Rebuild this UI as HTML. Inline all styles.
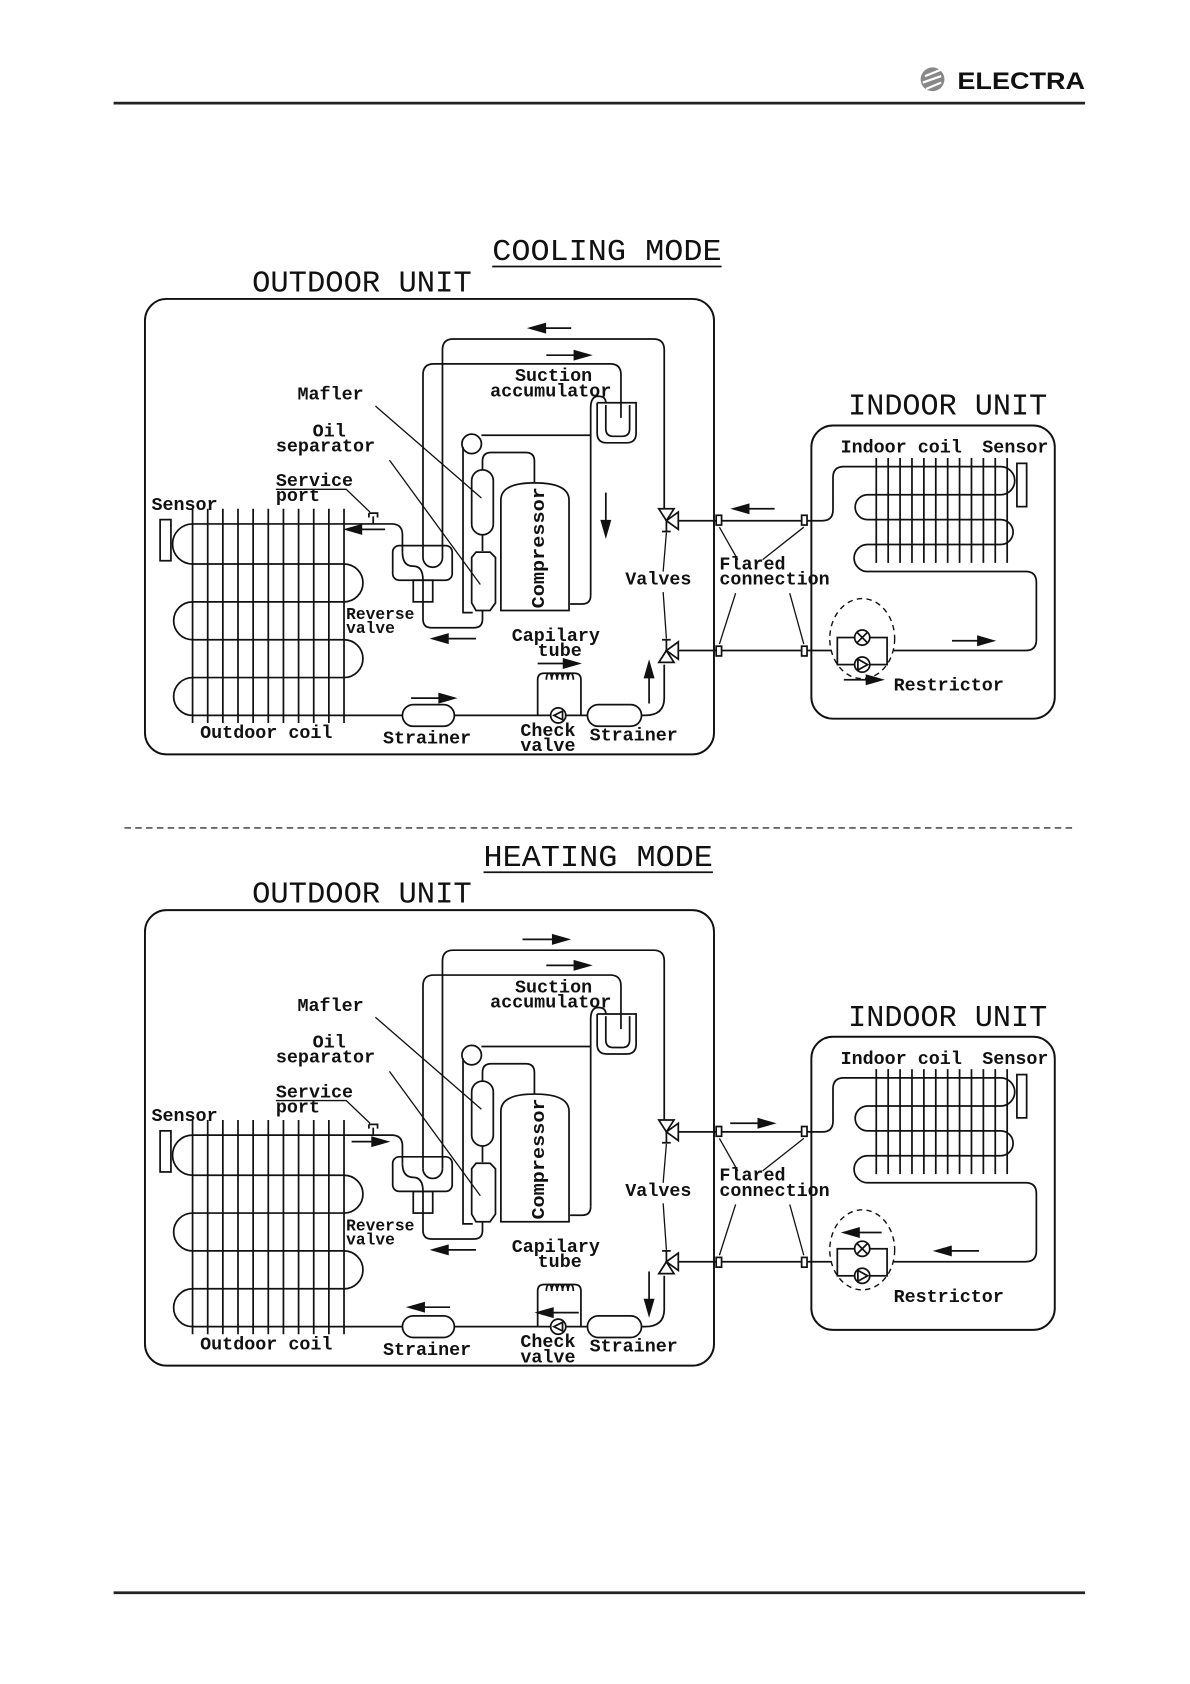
<!DOCTYPE html>
<html><head><meta charset="utf-8"><style>
html,body{margin:0;padding:0;background:#fff;}
svg{display:block}
.t{font-family:"Liberation Mono",monospace;font-weight:bold;font-size:17px;fill:#111}
.h{font-family:"Liberation Mono",monospace;font-size:28px;fill:#111}
</style></head><body>
<svg width="1190" height="1684" viewBox="0 0 1100 1556" xmlns="http://www.w3.org/2000/svg">
<defs>
<g id="base" fill="none" stroke="#111" stroke-width="1.6">
 <rect x="134" y="276" width="526" height="421" rx="20" stroke-width="1.8"/>
 <rect x="750" y="393" width="225" height="271" rx="20" stroke-width="1.8"/>
 <path d="M372,510 V494 Q372,484 362,484 H178 A18.5,18.5 0 0 0 178,521 H318 A17.5,17.5 0 0 1 318,556 H178 A17.5,17.5 0 0 0 178,591 H318 A17.5,17.5 0 0 1 318,626 H178 A17.5,17.5 0 0 0 178,661 H596 Q614,661 614,645 V614"/>
 <rect x="148" y="480" width="10" height="38" fill="#fff"/>
 <g>
  <line x1="178" y1="470" x2="178" y2="668"/><line x1="192" y1="470" x2="192" y2="668"/><line x1="206" y1="470" x2="206" y2="668"/><line x1="220" y1="470" x2="220" y2="668"/><line x1="234" y1="470" x2="234" y2="668"/><line x1="248" y1="470" x2="248" y2="668"/><line x1="262" y1="470" x2="262" y2="668"/><line x1="276" y1="470" x2="276" y2="668"/><line x1="290" y1="470" x2="290" y2="668"/><line x1="304" y1="470" x2="304" y2="668"/><line x1="318" y1="470" x2="318" y2="668"/>
 </g>
 <path d="M345,484 V477 M341,474 H349 V478 M341,474 V478"/>
 <path d="M255,452 H320 L342,473" stroke-width="1.2"/>
 <path d="M409,515 V323 Q409,313 419,313 H604 Q614,313 614,323 V470"/>
 <path d="M391,515 V346 Q391,336 401,336 H564 Q574,336 574,346 V386"/>
 <path d="M391,515 A9,9 0 0 0 409,515"/>
 <path d="M391,536 V572 Q391,580 399,580 H438 Q446,580 446,572 V564"/>
 <rect x="363" y="504" width="55" height="32" rx="6"/>
 <rect x="382" y="536" width="18" height="20"/>
 <path d="M372,510 Q372,523 382,523 Q391,523 391,536"/>
 <path d="M552,372 V400 Q552,409 561,409 H579 Q588,409 588,400 V372 H552"/>
 <path d="M560,374 V396 Q560,403 567,403 H575 Q582,403 582,396 V374"/>
 <path d="M546,550 V377 Q546,366 553,366 Q560,366 560,372"/>
 <path d="M546,550 Q546,558 538,558 H527"/>
 <path d="M445,402 H546"/>
 <circle cx="436" cy="410" r="9"/>
 <path d="M428,413 V566 H437"/>
 <rect x="436" y="434" width="20" height="60" rx="10"/>
 <path d="M446,494 V509"/>
 <path d="M446,434 V426 Q446,418 454,418 H486 Q494,418 494,426 V446"/>
 <path d="M440,510 H453 L458,515 V557 L453,564 H440 L436,557 V515 Z"/>
 <path d="M463,564 V462 Q463,446 494,446 Q526,446 526,462 V564 Z"/>
 <path d="M347,375 L445,460 M360,425 L444,540" stroke-width="1.2"/>
 <path d="M609,470 H623 L616,481 Z M616,481 L627,473 V489 Z M616,481 V491 M612,491 H620" fill="#fff"/>
 <path d="M616,601 L609,612 H623 Z M616,601 L627,593 V609 Z M616,601 V591 M612,591 H620" fill="#fff"/>
 <path d="M627,481 H743 M743,481 H760 Q770,481 770,471 V441 Q770,431 780,431 H925 A13,13 0 0 1 925,457 H802 A11.5,11.5 0 0 0 802,480 H925 A11.5,11.5 0 0 1 925,503 H802 A12.5,12.5 0 0 0 802,528 H948 Q958,528 958,538 V591 Q958,601 948,601 H826"/>
 <path d="M627,601 H768"/>
 <path d="M613,528 L616,492 M613,547 L616,590" stroke-width="1.2"/>
 <rect x="662" y="476" width="5" height="9" fill="#fff"/><rect x="741" y="476" width="5" height="9" fill="#fff"/>
 <rect x="662" y="597" width="5" height="9" fill="#fff"/><rect x="741" y="597" width="5" height="9" fill="#fff"/>
 <path d="M682,517 L665,487 M705,517 L743,487 M680,548 L665,595 M730,548 L743,595" stroke-width="1.2"/>
 <g>
  <line x1="810" y1="423" x2="810" y2="520"/><line x1="821" y1="423" x2="821" y2="520"/><line x1="832" y1="423" x2="832" y2="520"/><line x1="843" y1="423" x2="843" y2="520"/><line x1="854" y1="423" x2="854" y2="520"/><line x1="865" y1="423" x2="865" y2="520"/><line x1="876" y1="423" x2="876" y2="520"/><line x1="887" y1="423" x2="887" y2="520"/><line x1="898" y1="423" x2="898" y2="520"/><line x1="909" y1="423" x2="909" y2="520"/><line x1="920" y1="423" x2="920" y2="520"/><line x1="931" y1="423" x2="931" y2="520"/>
 </g>
 <rect x="940" y="428" width="9" height="40" fill="#fff"/>
 <ellipse cx="797" cy="590" rx="30" ry="37" stroke-dasharray="5,4" stroke-width="1.3"/>
 <rect x="774" y="589" width="46" height="25"/>
 <circle cx="797" cy="589" r="7" fill="#fff"/><path d="M792,584 L802,594 M802,584 L792,594"/>
 <circle cx="797" cy="614" r="7" fill="#fff"/><path d="M793,609 L802,614 L793,619 Z"/>
 <path d="M497,661 V628 Q497,622 503,622 H531 Q537,622 537,628 V661"/>
 <path d="M505,628 c0,-8 5,-8 5,0 c0,-8 5,-8 5,0 c0,-8 5,-8 5,0 c0,-8 5,-8 5,0 c0,-8 5,-8 5,0" fill="#fff"/>
 <circle cx="516" cy="661" r="7" fill="#fff"/>
 <rect x="372" y="651" width="48" height="20" rx="10" fill="#fff"/>
 <rect x="543" y="651" width="50" height="20" rx="10" fill="#fff"/>
</g>
</defs>

<circle cx="862" cy="73" r="11" fill="#888"/>
<path d="M855,70 L870,64 M853,76 L870,70 M856,82 L870,76" stroke="#fff" stroke-width="2"/>
<text x="885" y="82" font-family="Liberation Sans,sans-serif" font-weight="bold" font-size="22" textLength="118" lengthAdjust="spacingAndGlyphs" fill="#111">ELECTRA</text>
<line x1="105" y1="95" x2="1003" y2="95" stroke="#222" stroke-width="2.5"/>
<line x1="105" y1="1472" x2="1003" y2="1472" stroke="#222" stroke-width="2.5"/>
<line x1="115" y1="765" x2="993" y2="765" stroke="#333" stroke-width="1.2" stroke-dasharray="6,4"/>

<use href="#base"/>
<text class="h" x="455" y="240" textLength="212" lengthAdjust="spacingAndGlyphs">COOLING MODE</text>
<line x1="455" y1="246" x2="667" y2="246" stroke="#111" stroke-width="1.6"/>
<text class="h" x="233" y="269" textLength="203" lengthAdjust="spacingAndGlyphs">OUTDOOR UNIT</text>
<text class="h" x="784" y="383" textLength="184" lengthAdjust="spacingAndGlyphs">INDOOR UNIT</text>
<g class="t">
<text x="275" y="369">Mafler</text>
<text x="289" y="403">Oil</text>
<text x="255" y="417">separator</text>
<text x="255" y="449">Service</text>
<text x="255" y="463">port</text>
<text x="140" y="471">Sensor</text>
<text x="476" y="352">Suction</text>
<text x="453" y="366">accumulator</text>
<text x="320" y="572" font-size="15">Reverse</text>
<text x="320" y="585" font-size="15">valve</text>
<text x="473" y="592">Capilary</text>
<text x="497" y="606">tube</text>
<text x="578" y="540">Valves</text>
<text x="665" y="526">Flared</text>
<text x="665" y="540">connection</text>
<text x="185" y="682">Outdoor coil</text>
<text x="354" y="687">Strainer</text>
<text x="481" y="680">Check</text>
<text x="481" y="694">valve</text>
<text x="545" y="684">Strainer</text>
<text x="777" y="418">Indoor coil</text>
<text x="908" y="418">Sensor</text>
<text x="826" y="638">Restrictor</text>
<text transform="translate(503,562) rotate(-90)" textLength="112" lengthAdjust="spacingAndGlyphs">Compressor</text>
</g>
<g fill="#111" stroke="#111" stroke-width="1.6">
<path d="M512,661 L520,657 V665 Z" fill="#fff"/>
<line x1="528" y1="303" x2="500" y2="303"/><path d="M490,303 L504,299 V307 Z"/>
<line x1="505" y1="328" x2="533" y2="328"/><path d="M545,328 L531,324 V332 Z"/>
<line x1="560" y1="455" x2="560" y2="483"/><path d="M560,495 L556,481 H564 Z"/>
<line x1="356" y1="489" x2="332" y2="489"/><path d="M320,489 L334,485 V493 Z"/>
<line x1="440" y1="590" x2="412" y2="590"/><path d="M400,590 L414,586 V594 Z"/>
<line x1="380" y1="645" x2="408" y2="645"/><path d="M420,645 L406,641 V649 Z"/>
<line x1="600" y1="650" x2="600" y2="624"/><path d="M600,612 L596,626 H604 Z"/>
<line x1="497" y1="613" x2="523" y2="613"/><path d="M535,613 L521,609 V617 Z"/>
<line x1="716" y1="470" x2="690" y2="470"/><path d="M678,470 L692,466 V474 Z"/>
<line x1="880" y1="592" x2="906" y2="592"/><path d="M918,592 L904,588 V596 Z"/>
<line x1="780" y1="628" x2="803" y2="628"/><path d="M815,628 L801,624 V632 Z"/>
</g>

<use href="#base" y="565"/>
<text class="h" x="447" y="800" textLength="212" lengthAdjust="spacingAndGlyphs">HEATING MODE</text>
<line x1="447" y1="806" x2="659" y2="806" stroke="#111" stroke-width="1.6"/>
<text class="h" x="233" y="834" textLength="203" lengthAdjust="spacingAndGlyphs">OUTDOOR UNIT</text>
<text class="h" x="784" y="948" textLength="184" lengthAdjust="spacingAndGlyphs">INDOOR UNIT</text>
<g class="t">
<text x="275" y="934">Mafler</text>
<text x="289" y="968">Oil</text>
<text x="255" y="982">separator</text>
<text x="255" y="1014">Service</text>
<text x="255" y="1028">port</text>
<text x="140" y="1036">Sensor</text>
<text x="476" y="917">Suction</text>
<text x="453" y="931">accumulator</text>
<text x="320" y="1137" font-size="15">Reverse</text>
<text x="320" y="1150" font-size="15">valve</text>
<text x="473" y="1157">Capilary</text>
<text x="497" y="1171">tube</text>
<text x="578" y="1105">Valves</text>
<text x="665" y="1091">Flared</text>
<text x="665" y="1105">connection</text>
<text x="185" y="1247">Outdoor coil</text>
<text x="354" y="1252">Strainer</text>
<text x="481" y="1245">Check</text>
<text x="481" y="1259">valve</text>
<text x="545" y="1249">Strainer</text>
<text x="777" y="983">Indoor coil</text>
<text x="908" y="983">Sensor</text>
<text x="826" y="1203">Restrictor</text>
<text transform="translate(503,1127) rotate(-90)" textLength="112" lengthAdjust="spacingAndGlyphs">Compressor</text>
</g>
<g fill="#111" stroke="#111" stroke-width="1.6">
<path d="M512,1226 L520,1222 V1230 Z" fill="#fff"/>
<line x1="483" y1="868" x2="513" y2="868"/><path d="M525,868 L511,864 V872 Z"/>
<line x1="505" y1="892" x2="533" y2="892"/><path d="M545,892 L531,888 V896 Z"/>
<line x1="325" y1="1055" x2="346" y2="1055"/><path d="M358,1055 L344,1051 V1059 Z"/>
<line x1="440" y1="1155" x2="412" y2="1155"/><path d="M400,1155 L414,1151 V1159 Z"/>
<line x1="416" y1="1208" x2="390" y2="1208"/><path d="M378,1208 L392,1204 V1212 Z"/>
<line x1="600" y1="1175" x2="600" y2="1203"/><path d="M600,1215 L596,1201 H604 Z"/>
<line x1="535" y1="1213" x2="509" y2="1213"/><path d="M497,1213 L511,1209 V1217 Z"/>
<line x1="675" y1="1038" x2="703" y2="1038"/><path d="M715,1038 L701,1034 V1042 Z"/>
<line x1="905" y1="1156" x2="877" y2="1156"/><path d="M865,1156 L879,1152 V1160 Z"/>
<line x1="815" y1="1139" x2="792" y2="1139"/><path d="M780,1139 L794,1135 V1143 Z"/>
</g>
</svg>
</body></html>
